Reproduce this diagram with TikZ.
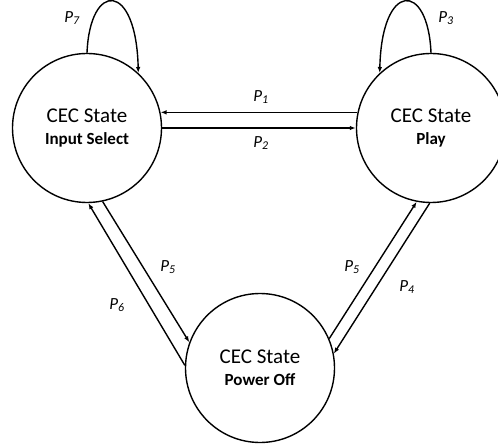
\documentclass[tikz,border=0pt]{standalone}
\usepackage{fontspec}
\setmainfont{Carlito}
\usetikzlibrary{arrows.meta}

\begin{document}
\begin{tikzpicture}[x=1pt, y=-1pt, line width=1.4pt,
    state/.style={circle, draw, minimum size=149pt, inner sep=0pt, align=center,
        font=\fontsize{21}{22}\selectfont},
    trans/.style={-{Latex[length=6pt,width=4.5pt]}},
    plab/.style={font=\fontsize{17}{18}\selectfont\itshape}]
    \useasboundingbox (0,0) rectangle (498,446);

    \node[state] (input) at (87,128) {CEC State\\{\fontsize{17}{18}\selectfont\bfseries Input Select}};
    \node[state] (play) at (431,128) {CEC State\\{\fontsize{17}{18}\selectfont\bfseries Play}};
    \node[state] (off) at (260,368) {CEC State\\{\fontsize{17}{18}\selectfont\bfseries Power Off}};

    \draw[trans] (play.168) -- (input.12);
    \draw[trans] (input.0) -- (play.180);
    \draw[trans] (off.178) -- (input.-89);
    \draw[trans] (input.-78) -- (off.160);
    \draw[trans] (off.23) -- (play.-101);
    \draw[trans] (play.-91) -- (off.11);
    \draw[trans] (input.90) .. controls +(3,-72) and +(-2,-92) .. (input.47);
    \draw[trans] (play.90) .. controls +(-3,-72) and +(2,-92) .. (play.133);

    \node[plab] (p1) at (261,97) {P\textsubscript{1}};
    \node[plab] (p2) at (261,143) {P\textsubscript{2}};
    \node[plab] (p3) at (446,18) {P\textsubscript{3}};
    \node[plab] (p4) at (407,287) {P\textsubscript{4}};
    \node[plab] (p5a) at (168,267) {P\textsubscript{5}};
    \node[plab] (p5b) at (352,267) {P\textsubscript{5}};
    \node[plab] (p6) at (117,305) {P\textsubscript{6}};
    \node[plab] (p7) at (72,18) {P\textsubscript{7}};
\end{tikzpicture}
\end{document}
